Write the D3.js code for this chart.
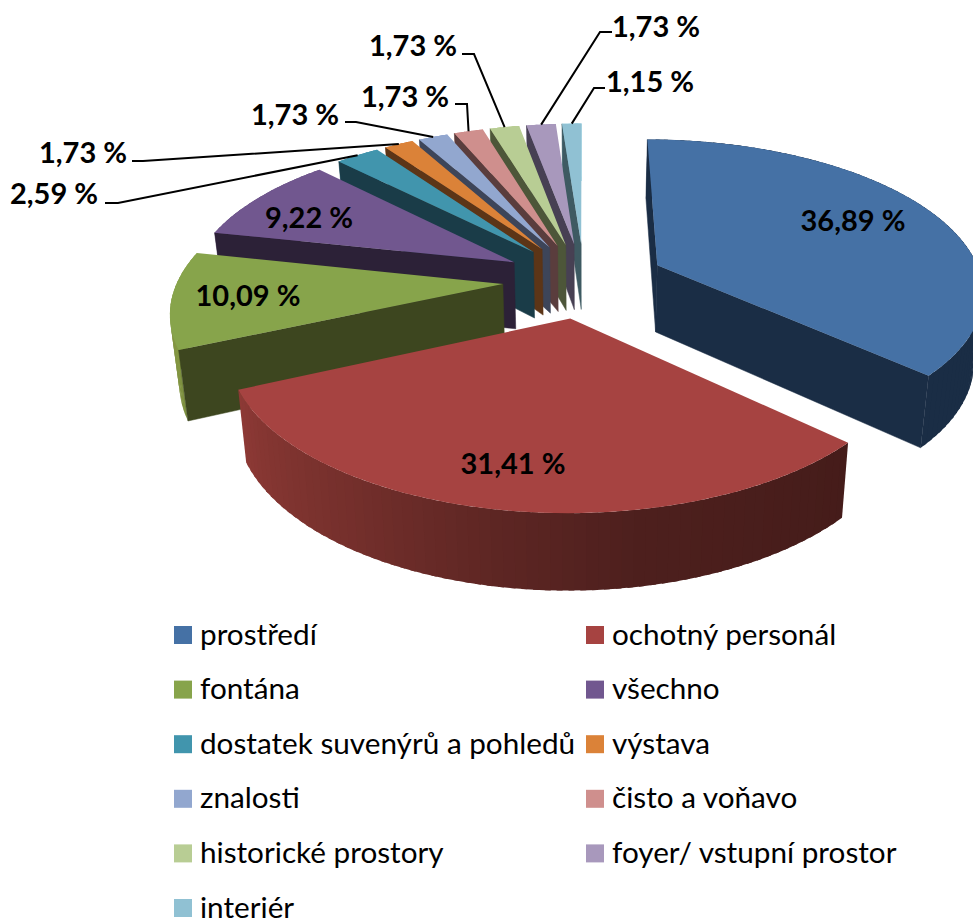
<!DOCTYPE html>
<html>
<head>
<meta charset="utf-8">
<script src="https://cdnjs.cloudflare.com/ajax/libs/d3/7.8.5/d3.min.js"></script>
<style>
  body { margin: 0; background: #fff; }
  svg { display: block; }
  text { font-family: Lato, "Open Sans", sans-serif; fill: #000; }
  .pct { font-size: 29px; font-weight: 700; text-anchor: middle; dominant-baseline: central; }
  .legend-label { font-size: 29.7px; dominant-baseline: central; }
</style>
</head>
<body>
<svg id="chart" width="973" height="922"></svg>
<script>
const categories = ['prostředí', 'ochotný personál', 'fontána', 'všechno', 'dostatek suvenýrů a pohledů',
  'výstava', 'znalosti', 'čisto a voňavo', 'historické prostory', 'foyer/ vstupní prostor', 'interiér'];
const values = [36.89, 31.41, 10.09, 9.22, 2.59, 1.73, 1.73, 1.73, 1.73, 1.73, 1.15];
const colors = ['#4571a5', '#a64341', '#87a44b', '#71578f', '#4195ad', '#db8238',
  '#92a7cf', '#cf8f8d', '#b8cd94', '#a898bc', '#90c1d3'];
const wallColors = ['#1a2d45', '#451c1a', '#3d461f', '#2c2137', '#1a3c48', '#5c3517',
  '#3d4559', '#5a3d3d', '#4d5639', '#474053', '#3e5a62'];

// label centre, then the elbow of the leader line (null = label sits on the slice)
const labelPos = [[853, 219], [513, 462], [248, 294], [309, 216], [54, 192], [83, 151],
  [295, 113], [405, 95], [413, 44], [656, 25], [650, 80]];
const leaderStart = [null, null, null, null, [105, 203], [132, 161], [345, 122], [455, 104], [462, 54], [612, 32], [605, 88]];
const leaderElbow = [null, null, null, null, [118, 203], [143, 161], [356, 122], [467, 104], [474, 54], [600, 32], [594, 88]];

const cx = 584, cy = 280, radius = 325, tilt = 150, persp = 6.3;
const explode = 0.25;
const svg = d3.select('#chart');

const pie = d3.pie().sort(null).startAngle(0).endAngle(2 * Math.PI);
const arcs = pie(values).map((d, i) => {
  const mid = (d.startAngle + d.endAngle) / 2;
  return { i, start: d.startAngle, end: d.endAngle, mid,
    ox: Math.sin(mid) * explode, oy: -Math.cos(mid) * explode };
});

// plane point -> screen, h = 0 on the top face, 1 on the bottom face
function project(x, y, h) {
  const s = persp / (persp - y);
  const px = radius * x * s;
  const py = tilt * y * s;
  const depth = h * (67.5 + 8 * y);
  return [cx + px * (1 - 0.023 * h), cy + py + depth];
}
const rim = (a, ang, h) => project(a.ox + Math.sin(ang), a.oy - Math.cos(ang), h);
const apex = (a, h) => project(a.ox, a.oy, h);
const line = d3.line();

// outer wall gets lighter going round from the right to the left side
const shade = d3.scaleLinear()
  .domain([133, 170, 190, 215, 246, 282])
  .range([1, 1.12, 1.35, 1.7, 2.05, 2.3])
  .clamp(true);

const order = arcs.slice().sort((a, b) => a.oy - b.oy);
const gPie = svg.append('g');

order.forEach(a => {
  const g = gPie.append('g');
  const wall = d3.rgb(wallColors[a.i]);

  // outer wall in narrow strips, each one running a bit under the next
  const n = Math.max(2, Math.ceil((a.end - a.start) / 0.03));
  const step = (a.end - a.start) / n;
  d3.range(n).forEach(k => {
    const t0 = a.start + step * k;
    const t1 = Math.min(a.end, t0 + step * 1.5);
    const deg = (t0 + step / 2) * 180 / Math.PI;
    const f = shade(deg);
    const col = d3.rgb(wall.r * f, wall.g * f, wall.b * f);
    g.append('path')
      .attr('d', line([rim(a, t0, 0), rim(a, t1, 0), rim(a, t1, 1), rim(a, t0, 1)]) + 'Z')
      .attr('fill', col);
  });

  // only the radial walls turned to the viewer
  if (Math.sin(a.start) < 1e-6) {
    g.append('path')
      .attr('d', line([apex(a, 0), rim(a, a.start, 0), rim(a, a.start, 1), apex(a, 1)]) + 'Z')
      .attr('fill', wall)
      .attr('stroke', wall)
      .attr('stroke-width', 0.5);
  }
  if (Math.sin(a.end) > 0) {
    g.append('path')
      .attr('d', line([apex(a, 0), rim(a, a.end, 0), rim(a, a.end, 1), apex(a, 1)]) + 'Z')
      .attr('fill', wall)
      .attr('stroke', wall)
      .attr('stroke-width', 0.5);
  }

  // top face
  const pts = d3.range(0, 61).map(k => rim(a, a.start + (a.end - a.start) * k / 60, 0));
  g.append('path')
    .attr('d', line([apex(a, 0), ...pts]) + 'Z')
    .attr('fill', colors[a.i]);
});

// leader lines
arcs.forEach(a => {
  if (!leaderStart[a.i]) return;
  svg.append('path')
    .attr('d', line([leaderStart[a.i], leaderElbow[a.i], rim(a, a.mid, 0)]))
    .attr('fill', 'none')
    .attr('stroke', '#000')
    .attr('stroke-width', 2);
});

// percentage labels
svg.selectAll('text.pct')
  .data(values)
  .enter()
  .append('text')
  .attr('class', 'pct')
  .attr('x', (d, i) => labelPos[i][0])
  .attr('y', (d, i) => labelPos[i][1])
  .text(d => d.toFixed(2).replace('.', ',') + ' %');

// legend
const rowScale = d3.scalePoint().domain(d3.range(6)).range([635, 908]);
const colScale = d3.scalePoint().domain([0, 1]).range([174, 586]);
const legend = svg.selectAll('g.legend')
  .data(categories)
  .enter()
  .append('g')
  .attr('class', 'legend')
  .attr('transform', (d, i) => `translate(${colScale(i % 2)},${rowScale(Math.floor(i / 2))})`);
legend.append('rect')
  .attr('y', -9)
  .attr('width', 18)
  .attr('height', 18)
  .attr('fill', (d, i) => colors[i]);
legend.append('text')
  .attr('class', 'legend-label')
  .attr('x', 26)
  .attr('y', -2)
  .text(d => d);
</script>
</body>
</html>
